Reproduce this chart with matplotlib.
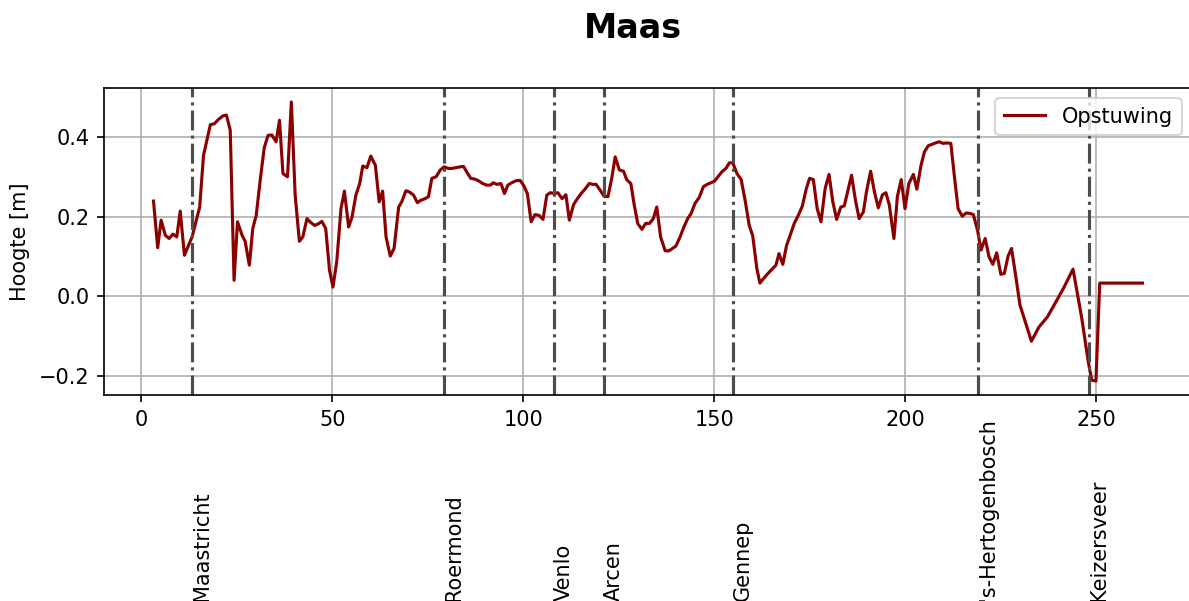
import matplotlib.pyplot as plt
import matplotlib.transforms as mtransforms

# rivierkilometer en opstuwing langs de Maas
km = [3.2, 4.3, 5.2, 6.3, 7.3, 8.3, 9.3, 10.2, 11.3, 13.3, 15.3, 16.3, 18.1, 19.1, 20.2,
      21.4, 22.3, 23.3, 24.3, 25.2, 26.4, 27.2, 28.3, 29.2, 30.1, 31.2, 32.2, 33.2, 34.2,
      35.3, 36.2, 37.1, 38.3, 39.3, 40.3, 41.4, 42.3, 43.4, 44.4, 45.4, 46.4, 47.3, 48.3,
      49.3, 50.2, 51.2, 52.3, 53.2, 54.3, 55.2, 56.2, 57.2, 58.0, 59.1, 60.1, 61.3, 62.3,
      63.2, 64.1, 65.2, 66.2, 67.4, 68.2, 69.3, 70.2, 71.3, 72.3, 73.2, 74.3, 75.2, 76.1,
      77.2, 78.3, 79.3, 80.4, 81.3, 82.5, 83.5, 84.4, 85.3, 86.3, 87.4, 88.5, 89.4, 90.5,
      91.4, 92.2, 93.1, 94.2, 95.1, 96.0, 97.0, 98.1, 99.2, 100.1, 101.1, 102.1, 103.1,
      104.2, 105.2, 106.2, 107.1, 108.1, 109.1, 110.2, 111.2, 112.1, 113.2, 114.2, 115.2,
      116.2, 117.3, 118.2, 119.1, 120.2, 121.2, 122.2, 123.2, 124.1, 125.2, 126.3, 127.1,
      128.2, 129.1, 130.0, 131.1, 132.1, 133.1, 134.1, 135.0, 136.0, 137.2, 138.2, 139.1,
      140.0, 141.1, 142.1, 143.1, 144.0, 145.0, 146.1, 147.2, 148.2, 149.2, 150.1, 151.0,
      152.0, 153.1, 154.0, 154.9, 156.0, 157.1, 158.2, 159.2, 160.1, 161.2, 162.0, 163.1,
      164.1, 165.1, 166.2, 167.0, 168.0, 169.0, 170.0, 171.0, 172.1, 173.1, 174.1, 175.0,
      176.0, 177.0, 178.0, 179.1, 180.1, 181.1, 182.1, 183.2, 184.1, 185.2, 186.0, 187.1,
      188.0, 189.1, 189.9, 191.0, 192.0, 193.0, 194.1, 195.0, 195.9, 197.1, 198.0, 199.0,
      200.0, 201.0, 202.2, 203.1, 204.2, 205.1, 206.1, 207.2, 208.0, 209.0, 209.9, 210.9,
      212.0, 212.9, 213.9, 215.0, 216.0, 217.0, 217.9, 219.0, 219.9, 221.0, 222.0, 223.0,
      224.0, 225.1, 226.0, 227.0, 227.9, 229.1, 230.1, 233.1, 235.1, 237.3, 239.3, 241.4,
      244.0, 246.3, 248.0, 248.9, 250.0, 251.0, 262.2]
opstuwing = [0.239, 0.122, 0.191, 0.153, 0.145, 0.156, 0.149, 0.214, 0.103, 0.149, 0.224,
             0.354, 0.431, 0.433, 0.444, 0.453, 0.455, 0.417, 0.040, 0.187, 0.153, 0.138,
             0.078, 0.170, 0.203, 0.296, 0.373, 0.404, 0.405, 0.388, 0.442, 0.308, 0.300,
             0.488, 0.254, 0.138, 0.149, 0.195, 0.185, 0.178, 0.182, 0.188, 0.170, 0.065,
             0.023, 0.088, 0.220, 0.264, 0.174, 0.199, 0.254, 0.283, 0.327, 0.323, 0.352,
             0.329, 0.237, 0.264, 0.149, 0.101, 0.120, 0.224, 0.237, 0.265, 0.262, 0.254,
             0.235, 0.241, 0.245, 0.250, 0.296, 0.300, 0.317, 0.325, 0.321, 0.321, 0.323,
             0.325, 0.326, 0.311, 0.296, 0.294, 0.289, 0.283, 0.279, 0.279, 0.285, 0.281,
             0.283, 0.258, 0.279, 0.285, 0.290, 0.291, 0.279, 0.258, 0.187, 0.205, 0.203,
             0.193, 0.254, 0.260, 0.258, 0.260, 0.245, 0.255, 0.191, 0.230, 0.245, 0.258,
             0.269, 0.283, 0.281, 0.281, 0.266, 0.251, 0.250, 0.296, 0.350, 0.317, 0.314,
             0.293, 0.283, 0.229, 0.183, 0.168, 0.183, 0.183, 0.195, 0.224, 0.149, 0.114,
             0.114, 0.120, 0.126, 0.149, 0.174, 0.195, 0.208, 0.233, 0.248, 0.275, 0.281,
             0.285, 0.289, 0.300, 0.312, 0.321, 0.335, 0.335, 0.308, 0.293, 0.237, 0.178,
             0.153, 0.070, 0.033, 0.046, 0.057, 0.067, 0.078, 0.107, 0.080, 0.128, 0.155,
             0.183, 0.204, 0.226, 0.268, 0.296, 0.293, 0.220, 0.187, 0.271, 0.306, 0.237,
             0.193, 0.224, 0.227, 0.271, 0.304, 0.237, 0.195, 0.212, 0.262, 0.314, 0.262,
             0.222, 0.255, 0.260, 0.229, 0.145, 0.250, 0.293, 0.220, 0.283, 0.306, 0.269,
             0.329, 0.363, 0.378, 0.382, 0.385, 0.388, 0.384, 0.385, 0.384, 0.304, 0.220,
             0.201, 0.209, 0.208, 0.205, 0.166, 0.116, 0.145, 0.099, 0.080, 0.109, 0.055,
             0.057, 0.101, 0.120, 0.044, -0.022, -0.113, -0.077, -0.052, -0.018, 0.018,
             0.068, -0.056, -0.165, -0.211, -0.213, 0.033, 0.033]

# plaatsen langs de rivier
plaatsen = ['Maastricht', 'Roermond', 'Venlo', 'Arcen', 'Gennep', "'s-Hertogenbosch", 'Keizersveer']
plaats_km = [13.4, 79.3, 108.1, 121.2, 155.0, 219.1, 248.2]

fig = plt.figure(figsize=(1189 / 150, 601 / 150), dpi=150)
ax = fig.add_axes([0.0875, 0.3428, 0.915, 0.5108])

ax.plot(km, opstuwing, color='darkred', lw=1.5, label='Opstuwing')
trans = mtransforms.blended_transform_factory(ax.transData, fig.transFigure)
for naam, k in zip(plaatsen, plaats_km):
    ax.axvline(k, color='0.3', ls='-.', lw=1.5)
    ax.text(k, 0.0, naam, rotation=90, ha='left', va='bottom', transform=trans)

ax.set_ylabel('Hoogte [m]')
ax.grid(True)
ax.legend(loc='upper right')
fig.suptitle('Maas', x=0.532, y=0.98, fontsize=16, fontweight='bold')

fig.savefig('out.png', dpi=150)
